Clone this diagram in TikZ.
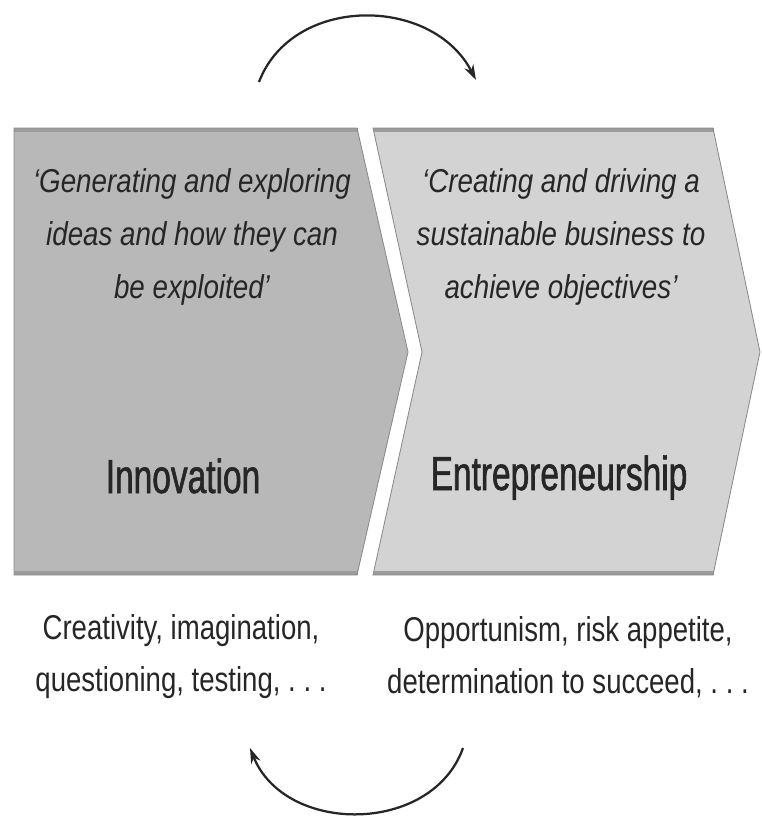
\documentclass[tikz,border=0pt]{standalone}
\usepackage{fontspec}
\setmainfont{Liberation Sans}
\newfontfamily\quotefont{Liberation Sans}[FakeStretch=0.84]
\newfontfamily\headfont{Liberation Sans}[FakeStretch=0.70, FakeBold=1.2]
\newfontfamily\notefont{Liberation Sans}[FakeStretch=0.80]
\usetikzlibrary{arrows.meta}
\definecolor{innofill}{HTML}{B8B8B8}
\definecolor{entrefill}{HTML}{D3D3D3}
\definecolor{edgegray}{HTML}{8A8A8A}
\definecolor{bandgray}{HTML}{9C9C9C}
\definecolor{txtgray}{HTML}{262626}
\tikzstyle{chevron} = [draw=edgegray, line width=0.6pt, line join=miter]
\tikzstyle{band} = [draw=bandgray, line width=3pt]
\tikzstyle{quotetext} = [
    align=center, text=txtgray,
    font=\quotefont\itshape\fontsize{23.5}{37.7}\selectfont
]
\tikzstyle{headtext} = [
    anchor=base, text=txtgray,
    font=\headfont\fontsize{34}{40}\selectfont
]
\tikzstyle{notetext} = [
    align=center, text=txtgray,
    font=\notefont\fontsize{24.5}{37}\selectfont
]
\tikzstyle{loop} = [line width=1.6pt, draw=black!85, -{Stealth[length=11pt,width=7pt]}]

\begin{document}
\begin{tikzpicture}[x=0.025cm, y=-0.025cm]
\useasboundingbox (0,0) rectangle (762,818);

% Chevrons
\fill[innofill] (14,128) -- (357,128) -- (408,352) -- (357,575) -- (14,575) -- cycle;
\draw[band] (14,130) -- (357.5,130);
\draw[band] (14,573) -- (357.5,573);
\draw[chevron] (14,128) -- (357,128) -- (408,352) -- (357,575) -- (14,575) -- cycle;

\fill[entrefill] (373,128) -- (713,128) -- (760,352) -- (713,575) -- (373,575) -- (422,352) -- cycle;
\draw[band] (373.5,130) -- (713.5,130);
\draw[band] (373.5,573) -- (713.5,573);
\draw[chevron] (373,128) -- (713,128) -- (760,352) -- (713,575) -- (373,575) -- (422,352) -- cycle;

% Texts inside
\node (Q_inno) [quotetext] at (192,237) {‘Generating and exploring\\ideas and how they can\\be exploited’};
\node (Q_entre) [quotetext] at (561,237) {‘Creating and driving a\\sustainable business to\\achieve objectives’};
\node (Inno) [headtext] at (183,493) {Innovation};
\node (Entre) [headtext] at (559,490) {Entrepreneurship};

% Texts below
\node (N_inno) [notetext] at (181,657) {Creativity, imagination,\\questioning, testing, .\ .\ .};
\node (N_entre) [notetext] at (568,657) {Opportunism, risk appetite,\\determination to succeed, .\ .\ .};

% Cycle arrows
\coordinate (topA) at (259,82);
\coordinate (topB) at (476,80);
\coordinate (botA) at (463,748);
\coordinate (botB) at (250,748);
\draw[loop] (topA) .. controls (292,-5) and (432,-5) .. (topB);
\draw[loop] (botA) .. controls (432,835) and (285,835) .. (botB);

\end{tikzpicture}
\end{document}
